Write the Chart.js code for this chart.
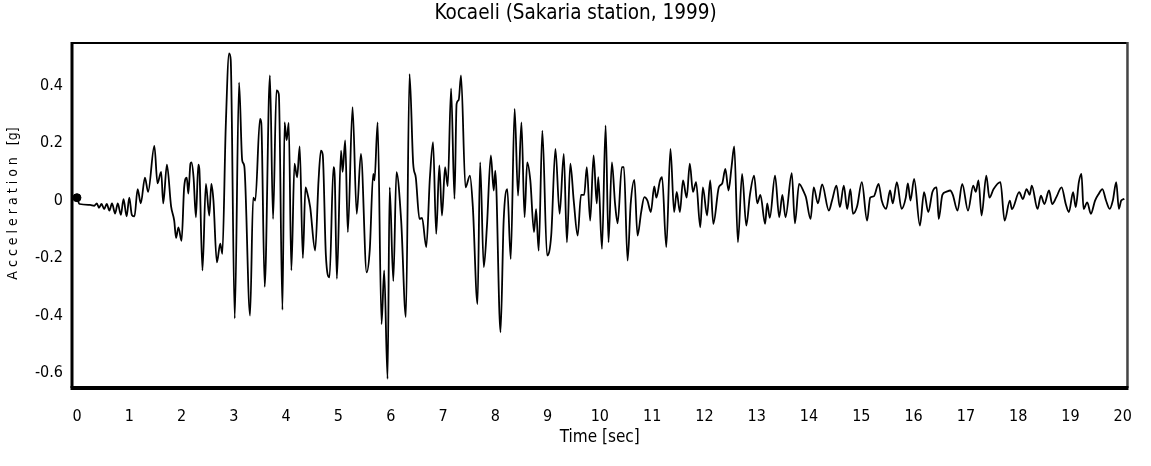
<!DOCTYPE html>
<html>
<head>
<meta charset="utf-8">
<script src="https://cdn.jsdelivr.net/npm/chart.js@4.4.1/dist/chart.umd.min.js"></script>
<style>
  html, body { margin: 0; padding: 0; background: #fff; }
  #wrap { width: 1151px; height: 466px; }
</style>
</head>
<body>
<div id="wrap"><canvas id="accel-chart"></canvas></div>
<script>
// time (s) and acceleration (g), turning points only
const timeSec = [
  0.00, 0.05, 0.25, 0.33, 0.38, 0.42, 0.47, 0.52, 0.57, 0.62, 0.67, 0.73, 0.78, 0.84, 0.89, 0.95,
  1.00, 1.05, 1.10, 1.16, 1.22, 1.30, 1.36, 1.48, 1.54, 1.61, 1.65, 1.72, 1.80, 1.86, 1.895, 1.94,
  2.00, 2.05, 2.10, 2.13, 2.17, 2.19, 2.23, 2.275, 2.32, 2.34, 2.40, 2.465, 2.53, 2.57, 2.61, 2.675,
  2.74, 2.78, 2.845, 2.91, 2.94, 3.017, 3.10, 3.16, 3.20, 3.31, 3.37, 3.41, 3.50, 3.525, 3.59, 3.69,
  3.75, 3.815, 3.86, 3.93, 3.97, 4.01, 4.05, 4.10, 4.16, 4.21, 4.26, 4.32, 4.37, 4.40, 4.46, 4.555,
  4.62, 4.665, 4.70, 4.76, 4.83, 4.905, 4.93, 4.97, 5.05, 5.08, 5.13, 5.18, 5.27, 5.35, 5.43, 5.54,
  5.60, 5.665, 5.69, 5.75, 5.825, 5.875, 5.94, 5.98, 6.05, 6.11, 6.20, 6.29, 6.36, 6.43, 6.48, 6.55,
  6.60, 6.68, 6.75, 6.81, 6.87, 6.93, 6.98, 7.04, 7.09, 7.155, 7.22, 7.26, 7.30, 7.345, 7.43, 7.515,
  7.57, 7.66, 7.71, 7.78, 7.84, 7.915, 7.97, 8.00, 8.10, 8.16, 8.23, 8.295, 8.37, 8.435, 8.50, 8.56,
  8.61, 8.67, 8.74, 8.78, 8.83, 8.90, 8.99, 9.07, 9.15, 9.23, 9.31, 9.37, 9.435, 9.50, 9.575, 9.64,
  9.70, 9.75, 9.815, 9.88, 9.94, 9.97, 10.04, 10.11, 10.165, 10.23, 10.29, 10.34, 10.42, 10.46, 10.53, 10.59,
  10.66, 10.72, 10.79, 10.85, 10.91, 10.975, 11.04, 11.08, 11.15, 11.19, 11.27, 11.35, 11.42, 11.47, 11.53, 11.59,
  11.66, 11.72, 11.78, 11.84, 11.92, 11.97, 12.05, 12.11, 12.17, 12.275, 12.34, 12.40, 12.46, 12.52, 12.57, 12.64,
  12.72, 12.80, 12.87, 12.95, 13.01, 13.07, 13.16, 13.20, 13.25, 13.35, 13.43, 13.49, 13.55, 13.67, 13.73, 13.81,
  13.90, 13.94, 14.03, 14.09, 14.17, 14.25, 14.38, 14.44, 14.525, 14.59, 14.665, 14.73, 14.79, 14.84, 14.92, 15.01,
  15.11, 15.17, 15.24, 15.33, 15.39, 15.475, 15.55, 15.60, 15.68, 15.77, 15.85, 15.89, 15.94, 16.01, 16.12, 16.20,
  16.28, 16.36, 16.44, 16.48, 16.55, 16.62, 16.70, 16.75, 16.84, 16.93, 17.04, 17.14, 17.19, 17.24, 17.30, 17.39,
  17.45, 17.53, 17.66, 17.74, 17.84, 17.88, 18.02, 18.09, 18.16, 18.22, 18.26, 18.37, 18.435, 18.50, 18.59, 18.65,
  18.73, 18.83, 18.91, 18.97, 19.05, 19.10, 19.16, 19.21, 19.25, 19.32, 19.39, 19.47, 19.54, 19.61, 19.68, 19.75,
  19.81, 19.875, 19.925, 19.97, 20.03
];
const accelG = [
  0.010, -0.012, -0.015, -0.018, -0.010, -0.025, -0.012, -0.030, -0.012, -0.035, -0.010, -0.045, -0.010, -0.050, 0.005, -0.055,
  0.010, -0.050, -0.055, 0.040, -0.010, 0.080, 0.030, 0.190, 0.060, 0.100, -0.010, 0.125, -0.020, -0.070, -0.130, -0.093,
  -0.140, 0.046, 0.080, 0.024, 0.128, 0.133, 0.080, -0.058, 0.125, 0.110, -0.243, 0.058, -0.052, 0.058, 0.000, -0.215,
  -0.150, -0.185, 0.255, 0.512, 0.490, -0.410, 0.410, 0.140, 0.120, -0.400, 0.010, 0.000, 0.284, 0.270, -0.300, 0.435,
  -0.064, 0.383, 0.370, -0.380, 0.272, 0.210, 0.270, -0.243, 0.128, 0.081, 0.188, -0.200, 0.046, 0.030, -0.023, -0.174,
  0.070, 0.174, 0.160, -0.190, -0.267, 0.116, 0.080, -0.272, 0.174, 0.100, 0.209, -0.110, 0.325, -0.046, 0.162, -0.250,
  -0.170, 0.093, 0.070, 0.272, -0.430, -0.243, -0.620, 0.046, -0.280, 0.099, -0.070, -0.405, 0.440, 0.128, 0.080, -0.064,
  -0.060, -0.162, 0.081, 0.203, -0.116, 0.122, -0.052, 0.116, 0.050, 0.390, 0.006, 0.336, 0.350, 0.435, 0.046, 0.087,
  -0.020, -0.360, 0.133, -0.232, -0.090, 0.157, 0.035, 0.104, -0.458, -0.070, 0.040, -0.203, 0.319, 0.017, 0.272, -0.058,
  0.133, 0.070, -0.110, -0.030, -0.174, 0.243, -0.191, -0.120, 0.180, -0.046, 0.162, -0.145, 0.128, 0.000, -0.122, 0.020,
  0.020, 0.116, -0.070, 0.157, -0.010, 0.081, -0.168, 0.261, -0.145, 0.133, -0.010, -0.079, 0.116, 0.116, -0.209, -0.010,
  0.072, -0.122, -0.040, 0.012, 0.000, -0.040, 0.049, 0.010, 0.070, 0.081, -0.162, 0.180, -0.040, 0.030, -0.040, 0.070,
  0.010, 0.128, 0.030, 0.064, -0.093, 0.046, -0.052, 0.070, -0.081, 0.046, 0.060, 0.110, 0.035, 0.120, 0.188, -0.145,
  0.093, -0.087, 0.020, 0.087, -0.010, 0.020, -0.081, -0.010, -0.060, 0.087, -0.058, 0.020, -0.058, 0.095, -0.079, 0.058,
  0.030, 0.012, -0.064, 0.046, -0.010, 0.056, -0.035, 0.000, 0.052, -0.023, 0.052, -0.030, 0.040, -0.046, -0.020, 0.064,
  -0.070, 0.010, 0.015, 0.058, 0.000, -0.029, 0.035, -0.010, 0.064, -0.029, 0.010, 0.060, 0.000, 0.075, -0.087, 0.029,
  -0.040, 0.030, 0.046, -0.064, 0.020, 0.030, 0.035, 0.020, -0.035, 0.058, -0.035, 0.052, 0.030, 0.070, -0.052, 0.087,
  0.010, 0.040, 0.064, -0.070, 0.000, -0.030, 0.029, 0.005, 0.040, 0.020, 0.052, -0.029, 0.017, -0.012, 0.035, -0.012,
  0.012, 0.046, -0.012, -0.040, 0.029, -0.023, 0.064, 0.093, -0.029, -0.006, -0.046, 0.000, 0.023, 0.040, 0.000, -0.029,
  0.000, 0.064, -0.029, 0.000, 0.006
];

const xTickValues = [0, 1, 2, 3, 4, 5, 6, 7, 8, 9, 10, 11, 12, 13, 14, 15, 16, 17, 18, 19, 20];
const yTickValues = [-0.6, -0.4, -0.2, 0, 0.2, 0.4];

const narrow = "'DejaVu Sans Condensed', 'Liberation Sans Narrow', sans-serif";

const trace = timeSec.map((t, i) => ({ x: t, y: accelG[i] }));

// frame around the plot: thick bottom, thinner top/right
const framePlugin = {
  id: 'frame',
  afterDatasetsDraw(chart) {
    const { ctx, chartArea: a } = chart;
    ctx.save();
    ctx.strokeStyle = '#000';
    ctx.lineWidth = 2;
    ctx.beginPath(); ctx.moveTo(a.left, a.top); ctx.lineTo(a.right, a.top); ctx.stroke();
    ctx.lineWidth = 3;
    ctx.beginPath(); ctx.moveTo(a.left, a.top - 1); ctx.lineTo(a.left, a.bottom); ctx.stroke();
    ctx.strokeStyle = '#444';
    ctx.lineWidth = 2.5;
    ctx.beginPath(); ctx.moveTo(a.right, a.top - 1); ctx.lineTo(a.right, a.bottom); ctx.stroke();
    ctx.strokeStyle = '#000';
    ctx.lineWidth = 4;
    ctx.beginPath(); ctx.moveTo(a.left - 1.5, a.bottom); ctx.lineTo(a.right + 1, a.bottom); ctx.stroke();
    ctx.restore();
  }
};

new Chart(document.getElementById('accel-chart'), {
  type: 'scatter',
  data: {
    datasets: [{
      data: trace,
      showLine: true,
      borderColor: '#000',
      borderWidth: 1.8,
      pointRadius: 0,
      cubicInterpolationMode: 'monotone'
    }, {
      data: trace.slice(0, 1),
      backgroundColor: '#000',
      borderColor: '#000',
      pointRadius: 4
    }]
  },
  options: {
    responsive: true,
    maintainAspectRatio: false,
    animation: false,
    layout: { padding: 0 },
    plugins: {
      legend: { display: false },
      tooltip: { enabled: false },
      title: {
        display: true,
        text: 'Kocaeli (Sakaria station, 1999)',
        color: '#000',
        font: { family: narrow, size: 20.5, weight: 'normal', lineHeight: 1.2 },
        padding: { top: 1, bottom: 17.4 }
      }
    },
    scales: {
      x: {
        type: 'linear',
        min: -0.095,
        max: 20.09,
        grid: { display: false, drawTicks: false },
        border: { display: false },
        afterBuildTicks: s => { s.ticks = xTickValues.map(v => ({ value: v })); },
        afterFit: s => { s.height = 78; },
        ticks: {
          color: '#000',
          padding: 19,
          maxRotation: 0,
          font: { family: narrow, size: 16 }
        },
        title: {
          display: true,
          text: 'Time [sec]',
          color: '#000',
          font: { family: narrow, size: 17, lineHeight: 1.2 },
          padding: { top: 0, bottom: 17.8 }
        }
      },
      y: {
        type: 'linear',
        min: -0.652,
        max: 0.548,
        grid: { display: false, drawTicks: false },
        border: { display: false },
        afterBuildTicks: s => { s.ticks = yTickValues.map(v => ({ value: v })); },
        afterFit: s => { s.width = 72; },
        ticks: {
          color: '#000',
          padding: 9,
          font: { family: narrow, size: 16 },
          callback: v => String(Math.round(v * 10) / 10)
        },
        title: {
          display: true,
          text: '      A c c e l e r a t i o n   [g]',
          color: '#000',
          font: { family: narrow, size: 14, lineHeight: 1.2 },
          padding: { top: 4.6, bottom: 0 }
        }
      },
      // empty right-hand strip so the title centres on the full width
      yRight: {
        position: 'right',
        display: true,
        grid: { display: false, drawTicks: false },
        border: { display: false },
        ticks: { display: false },
        afterFit: s => { s.width = 17; }
      }
    }
  },
  plugins: [framePlugin]
});
</script>
</body>
</html>
